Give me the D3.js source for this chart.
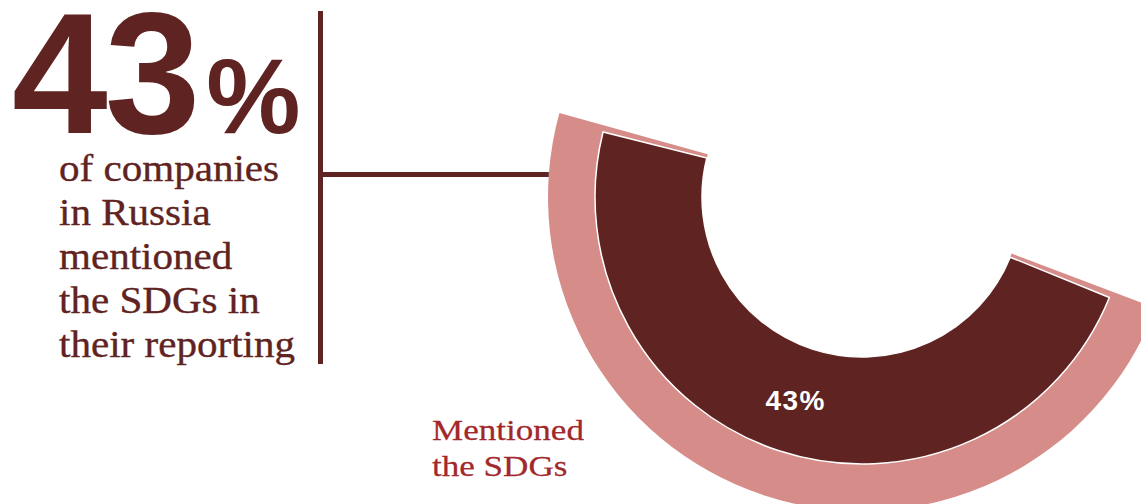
<!DOCTYPE html>
<html>
<head>
<meta charset="utf-8">
<script src="https://cdn.jsdelivr.net/npm/d3@7"></script>
<style>
  html, body { margin: 0; padding: 0; background: #ffffff; }
  svg { display: block; }
</style>
</head>
<body>
<svg id="chart" width="1141" height="504"></svg>
<script>
// Headline figure and its caption
const headlineValue = ["43", "%"];
const captionLines = ["of companies", "in Russia", "mentioned", "the SDGs in", "their reporting"];

// Ring data
const categories = ["Mentioned the SDGs"];
const shares = [43];               // percent of companies
const sliceLabelLines = ["Mentioned", "the SDGs"];

const DARK = "#5f2321";
const PINK = "#d68d89";
const LABEL_RED = "#a2282b";

const W = 1141, H = 504;
const svg = d3.select("#chart");
svg.append("rect").attr("width", W).attr("height", H).attr("fill", "#ffffff");

// ---- ring geometry ----
const cx = 862, cy = 197;
const rInner = 160, rOuter = 267, rBack = 314;
const midAngle = 198.1 * Math.PI / 180;        // slice centred a little left of bottom
// angular extent per percentage point (4 degrees per point)
const sweep = d3.scaleLinear().domain([0, 100]).range([0, 400 * Math.PI / 180]);
const backPad = 1.4 * Math.PI / 180;

const ring = svg.append("g").attr("transform", `translate(${cx},${cy})`);

const slices = shares.map((v, i) => {
  const span = sweep(v);
  return { name: categories[i], value: v, startAngle: midAngle - span / 2, endAngle: midAngle + span / 2 };
});

// light backing band
const backArc = d3.arc().innerRadius(rInner).outerRadius(rBack);
ring.selectAll("path.back").data(slices).join("path")
  .attr("class", "back")
  .attr("d", d => backArc({ startAngle: d.startAngle - backPad, endAngle: d.endAngle + backPad }))
  .attr("fill", PINK);

// main slice
const mainArc = d3.arc().innerRadius(rInner).outerRadius(rOuter);
ring.selectAll("path.main").data(slices).join("path")
  .attr("class", "main")
  .attr("d", mainArc)
  .attr("fill", DARK)
  .attr("stroke", "#ffffff")
  .attr("stroke-width", 1.5)
  .attr("stroke-linejoin", "miter");

// value label at the slice centroid
ring.selectAll("text.val").data(slices).join("text")
  .attr("class", "val")
  .attr("transform", d => { const c = mainArc.centroid(d); return `translate(${c[0]},${c[1] + 10})`; })
  .attr("text-anchor", "middle")
  .attr("font-family", "'Liberation Sans', Arial, sans-serif")
  .attr("font-weight", "bold")
  .attr("font-size", 28)
  .attr("letter-spacing", 1.5)
  .attr("fill", "#ffffff")
  .text(d => `${d.value}%`);

// ---- headline ----
const big = svg.append("text")
  .attr("x", 12).attr("y", 133)
  .attr("font-family", "'Liberation Sans', Arial, sans-serif")
  .attr("font-weight", "bold")
  .attr("fill", DARK);
big.append("tspan").attr("font-size", 172).attr("letter-spacing", -3).text(headlineValue[0]);
big.append("tspan").attr("font-size", 106).attr("dx", 9).text(headlineValue[1]);

// caption
const cap = svg.append("g").attr("transform", "translate(59,0) scale(1.11,1)");
cap.selectAll("text").data(captionLines).join("text")
  .attr("x", 0)
  .attr("y", (d, i) => 181 + i * 44)
  .attr("font-family", "'Liberation Serif', 'Times New Roman', serif")
  .attr("font-size", 37)
  .attr("fill", DARK)
  .attr("stroke", DARK)
  .attr("stroke-width", 0.35)
  .text(d => d);

// connector lines
svg.append("rect").attr("x", 318).attr("y", 11).attr("width", 5).attr("height", 353).attr("fill", DARK);
const hy = 174.5;
const hx2 = cx - Math.sqrt(rBack * rBack - (cy - hy) * (cy - hy));
svg.append("rect").attr("x", 320).attr("y", hy - 2.5).attr("width", hx2 - 320).attr("height", 5).attr("fill", DARK);

// slice category label
const lab = svg.append("g").attr("transform", "translate(432,0) scale(1.17,1)");
lab.selectAll("text").data(sliceLabelLines).join("text")
  .attr("x", 0)
  .attr("y", (d, i) => 440 + i * 36)
  .attr("font-family", "'Liberation Serif', 'Times New Roman', serif")
  .attr("font-size", 30)
  .attr("fill", LABEL_RED)
  .attr("stroke", LABEL_RED)
  .attr("stroke-width", 0.25)
  .text(d => d);
</script>
</body>
</html>
